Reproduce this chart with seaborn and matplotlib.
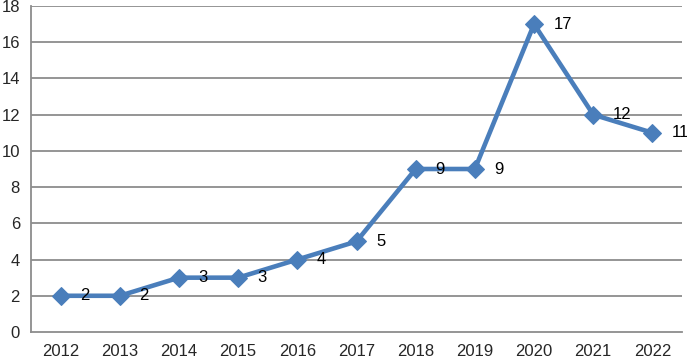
import matplotlib
matplotlib.use("Agg")
import matplotlib.pyplot as plt
import seaborn as sns
import numpy as np

years = ["2012", "2013", "2014", "2015", "2016", "2017", "2018", "2019", "2020", "2021", "2022"]
counts = [2, 2, 3, 3, 4, 5, 9, 9, 17, 12, 11]
y_ticks = [0, 2, 4, 6, 8, 10, 12, 14, 16, 18]

sns.set_style("white")
plt.rcParams['font.family'] = ['Liberation Sans', 'DejaVu Sans']

fig = plt.figure(figsize=(6.87, 3.59), dpi=100)
ax = fig.add_axes([31/687, 27/359, 651/687, 326/359])

grid_c = "#8c8c8c"
for t in y_ticks[1:]:
    ax.axhline(t, color=grid_c, lw=1.3, zorder=0)

sns.lineplot(x=years, y=counts, ax=ax, color="#4A7EBB", lw=3.3, marker="D",
             markersize=9.5, markeredgecolor="#4A7EBB", sort=False, zorder=3)

pos = np.arange(len(years))
for p, v in zip(pos, counts):
    ax.annotate(str(v), (p, v), xytext=(14, 0), textcoords="offset points",
                va="center", ha="left", fontsize=12, color="black", zorder=4)

ax.set_xlim(-0.5, len(years) - 0.5)
ax.set_ylim(0, 18)
ax.set_yticks(y_ticks)
ax.set_xticks(pos)
ax.set_xticklabels(years)
ax.set_xticks(np.arange(len(years) + 1) - 0.5, minor=True)
ax.tick_params(axis="x", which="major", length=0, pad=9, labelsize=12)
ax.tick_params(axis="x", which="minor", length=5, width=1.3, color=grid_c, direction="out")
ax.tick_params(axis="y", length=5, width=1.3, color=grid_c, direction="out", labelsize=12, pad=3)
ax.set_xlabel("")
ax.set_ylabel("")
for s in ["top", "right"]:
    ax.spines[s].set_visible(False)
for s in ["left", "bottom"]:
    ax.spines[s].set_color(grid_c)
    ax.spines[s].set_linewidth(1.3)

fig.savefig("out.png", dpi=100)
